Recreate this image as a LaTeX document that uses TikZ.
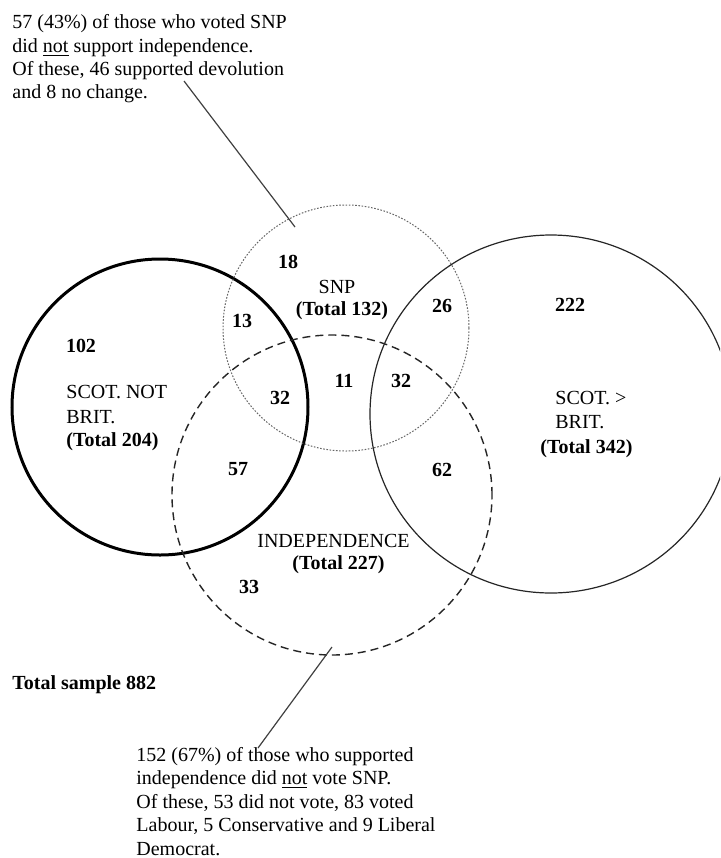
\documentclass[tikz,border=0pt]{standalone}
\usepackage{fontspec}
\setmainfont{Liberation Serif}
\usetikzlibrary{shapes.geometric}
\tikzset{
  lbl/.style={inner sep=0pt, font=\fontsize{10pt}{11.65pt}\selectfont},
  num/.style={lbl, font=\fontsize{10pt}{11.65pt}\selectfont\bfseries},
  conn/.style={draw=black!75, line width=0.6pt},
  scotring/.style={draw, circle, line width=1.5pt, inner sep=0pt, minimum size=148pt},
  snpring/.style={draw=black!60, circle, line width=0.5pt, dash pattern=on 0.8pt off 0.8pt, inner sep=0pt, minimum size=123pt},
  indring/.style={draw=black!85, circle, line width=0.7pt, dash pattern=on 4pt off 2.5pt, inner sep=0pt, minimum size=160pt},
  britring/.style={draw=black!85, ellipse, line width=0.6pt, inner sep=0pt, minimum width=181pt, minimum height=179pt}
}
\begin{document}
\begin{tikzpicture}[x=0.5pt,y=-0.5pt]
\clip (0,0) rectangle (720,858);
\fill[white] (0,0) rectangle (720,858);
% circles
\node[scotring] (scot) at (160,407) {};
\node[snpring] (snp) at (346,328) {};
\node[indring] (indep) at (332,495) {};
\node[britring] (brit) at (551,414) {};
% top annotation
\node[lbl, anchor=base west] (ta1) at (12,28.5) {57 (43\%) of those who voted SNP};
\node[lbl, anchor=base west] (ta2) at (12,52) {did \underline{not} support independence.};
\node[lbl, anchor=base west] (ta3) at (12,75) {Of these, 46 supported devolution};
\node[lbl, anchor=base west] (ta4) at (12,98.5) {and 8 no change.};
% bottom annotation
\node[lbl, anchor=base west] (ba1) at (136,761) {152 (67\%) of those who supported};
\node[lbl, anchor=base west] (ba2) at (136,784.5) {independence did \underline{not} vote SNP.};
\node[lbl, anchor=base west] (ba3) at (136,808) {Of these, 53 did not vote, 83 voted};
\node[lbl, anchor=base west] (ba4) at (136,831.5) {Labour, 5 Conservative and 9 Liberal};
\node[lbl, anchor=base west] (ba5) at (136,855) {Democrat.};
% connectors
\coordinate (a1) at (184,81);
\coordinate (a2) at (295,227);
\draw[conn] (a1) -- (a2);
\coordinate (b1) at (332,647);
\coordinate (b2) at (258,748);
\draw[conn] (b1) -- (b2);
% set labels
\node[lbl, anchor=base west] (s1) at (66,398.5) {SCOT. NOT};
\node[lbl, anchor=base west] (s2) at (66,423.5) {BRIT.};
\node[num, anchor=base west] (s3) at (66,446.5) {(Total 204)};
\node[lbl, anchor=base] (n1) at (337,293.5) {SNP};
\node[num, anchor=base] (n2) at (342,315.5) {(Total 132)};
\node[lbl, anchor=base] (i1) at (333.5,547.5) {INDEPENDENCE};
\node[num, anchor=base] (i2) at (338.5,569.5) {(Total 227)};
\node[lbl, anchor=base west] (r1) at (555,404.5) {SCOT. >};
\node[lbl, anchor=base west] (r2) at (555,428.5) {BRIT.};
\node[num, anchor=base west] (r3) at (540,453.5) {(Total 342)};
\node[num, anchor=base west] (tot) at (12,689.5) {Total sample 882};
% numbers
\node[num] (v102) at (81,346) {102};
\node[num] (v18) at (288,262) {18};
\node[num] (v13) at (242,321) {13};
\node[num] (v26) at (442,306) {26};
\node[num] (v11) at (344,381) {11};
\node[num] (v32r) at (401,381) {32};
\node[num] (v32l) at (280,398) {32};
\node[num] (v57) at (238,469) {57};
\node[num] (v62) at (442,470) {62};
\node[num] (v33) at (249,587) {33};
\node[num] (v222) at (570,305) {222};
\end{tikzpicture}
\end{document}
